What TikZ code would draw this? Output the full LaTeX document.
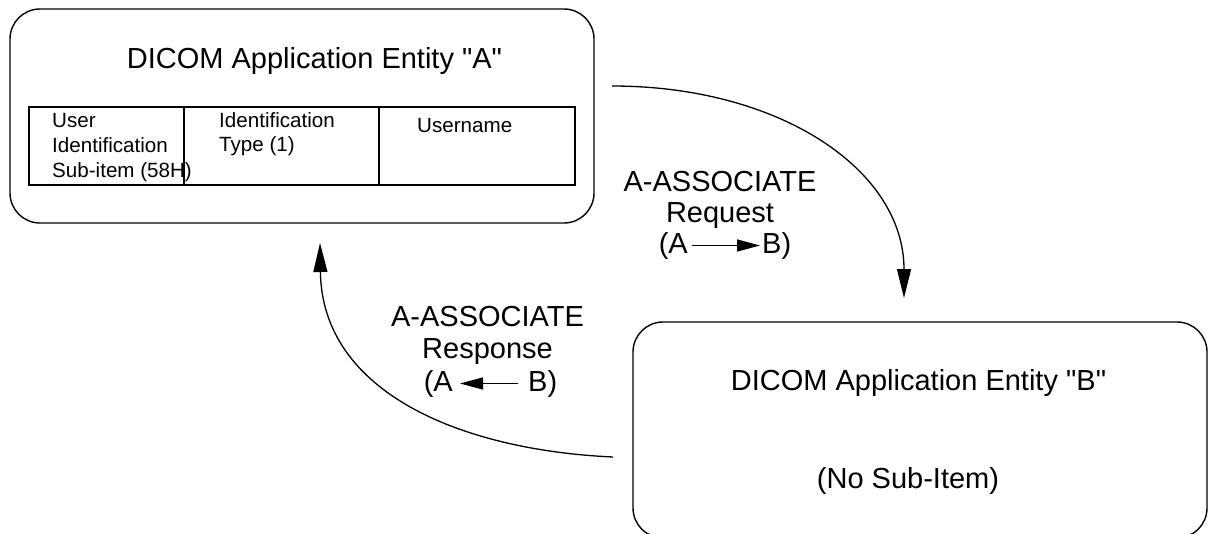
\documentclass[tikz,border=0pt]{standalone}
\usepackage{fontspec}
\setmainfont{Liberation Sans}[Ligatures=TeXOff]
\usetikzlibrary{arrows.meta}
\begin{document}
\begin{tikzpicture}[x=1pt,y=-1pt,
  entity/.style={draw, line width=1.4pt, rounded corners=30pt, inner sep=0pt},
  cell/.style={draw, line width=1.5pt, inner sep=0pt},
  big/.style={font=\fontsize{29}{33}\selectfont, inner sep=0pt},
  small/.style={font=\fontsize{20.6}{25}\selectfont, inner sep=0pt},
  flow/.style={line width=1.3pt, -{Triangle[length=29pt,width=14pt]}},
  inarrow/.style={line width=1.5pt, -{Triangle[length=23pt,width=12pt]}}]
\useasboundingbox (0,0) rectangle (1209,533);
% entity boxes
\node[entity, minimum width=584pt, minimum height=214pt] (boxA) at (302,116) {};
\node[entity, minimum width=574pt, minimum height=216pt] (boxB) at (920,430) {};
% table cells
\node[cell, minimum width=155pt, minimum height=78pt] (c1) at (106.5,146) {};
\node[cell, minimum width=195pt, minimum height=78pt] (c2) at (281.5,146) {};
\node[cell, minimum width=196pt, minimum height=78pt] (c3) at (477,146) {};
% titles
\node[big, anchor=base] (titleA) at (314.5,68) {DICOM Application Entity "A"};
\node[big, anchor=base] (titleB) at (918.5,390) {DICOM Application Entity "B"};
\node[big, anchor=base] (noSub) at (908,488) {(No Sub-Item)};
% table text
\node[small, anchor=base west] (t1a) at (52,127) {User};
\node[small, anchor=base west] (t1b) at (52,152) {Identification};
\node[small, anchor=base west] (t1c) at (52,177) {Sub-item (58H)};
\node[small, anchor=base west] (t2a) at (219,127) {Identification};
\node[small, anchor=base west] (t2b) at (219,151) {Type (1)};
\node[small, anchor=base west] (t3a) at (417,132) {Username};
% request arrow
\coordinate (reqS) at (612,86);
\coordinate (reqE) at (904,298);
\draw[flow] (reqS) .. controls (780,86) and (904,170) .. (reqE);
\node[big, anchor=base] (reqL1) at (720,191) {A-ASSOCIATE};
\node[big, anchor=base] (reqL2) at (720,222) {Request};
\node[big, anchor=base east] (reqA) at (688,253) {(A};
\node[big, anchor=base west] (reqB) at (762,253) {B)};
\draw[inarrow] ([xshift=4pt]reqA.east) -- ([xshift=-2pt]reqB.west);
% response arrow
\coordinate (resS) at (613,457);
\coordinate (resE) at (320,243);
\draw[flow] (resS) .. controls (460,450) and (322,392) .. (resE);
\node[big, anchor=base] (resL1) at (487.5,326) {A-ASSOCIATE};
\node[big, anchor=base] (resL2) at (487.5,358) {Response};
\node[big, anchor=base east] (resA) at (453,391) {(A};
\node[big, anchor=base west] (resB) at (528,391) {B)};
\draw[inarrow] ([xshift=-10pt]resB.west) -- ([xshift=7pt]resA.east);
\end{tikzpicture}
\end{document}
